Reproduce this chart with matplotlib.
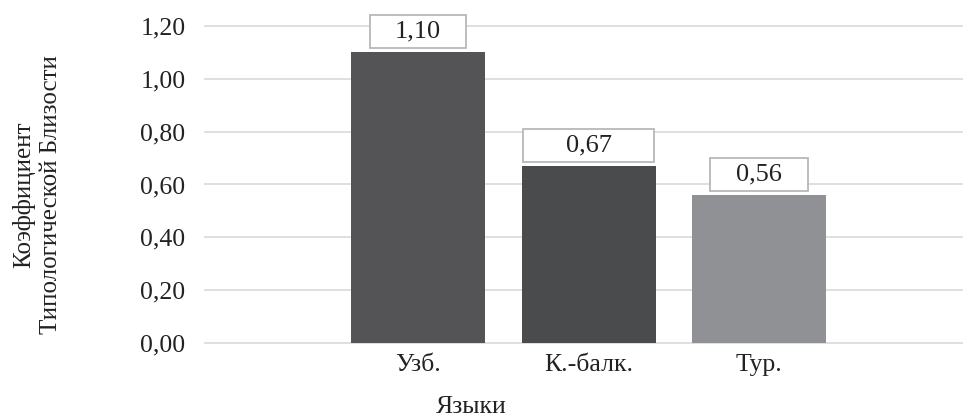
import matplotlib
matplotlib.use("Agg")
import matplotlib.pyplot as plt
from matplotlib.patches import Rectangle

plt.rcParams['font.family'] = ['Liberation Serif', 'DejaVu Serif']

# Data
languages = ["Узб.", "К.-балк.", "Тур."]
coefficients = [1.10, 0.67, 0.56]
y_ticks = [0.0, 0.2, 0.4, 0.6, 0.8, 1.0, 1.2]

# Styling
bar_colors = ["#545456", "#4a4b4d", "#909195"]
label_box_widths = [0.563, 0.768, 0.575]
grid_color = "#d9d9d9"
text_size = 18.5

fig = plt.figure(figsize=(9.63, 4.19), dpi=100)
ax = fig.add_axes([205 / 963, 1 - 343 / 419, 1 - 205 / 963, (343 - 26) / 419])

x = list(range(len(languages)))
ax.bar(x, coefficients, width=0.786, color=bar_colors, zorder=3)

ax.set_ylim(0, 1.2)
ax.set_xlim(-1.249, 3.196)
ax.set_yticks(y_ticks)
ax.set_yticklabels([f"{t:.2f}".replace(".", ",") for t in y_ticks], fontsize=text_size)
ax.set_xticks(x)
ax.set_xticklabels(languages, fontsize=text_size)
ax.tick_params(axis="both", length=0, colors="#222222")
ax.tick_params(axis="y", pad=14)
ax.tick_params(axis="x", pad=8)
ax.grid(axis="y", color=grid_color, linewidth=1.2, zorder=0)
ax.grid(axis="x", visible=False)
for spine in ax.spines.values():
    spine.set_visible(False)
for gl in ax.get_ygridlines():
    gl.set_clip_on(False)

# Value labels in outlined boxes above each bar
box_h = 0.125
gap = 0.015
for xi, v, w in zip(x, coefficients, label_box_widths):
    ax.add_patch(Rectangle((xi - w / 2, v + gap), w, box_h, facecolor="white",
                           edgecolor="#b8b8b8", linewidth=1.3, zorder=4, clip_on=False))
    ax.text(xi, v + gap + box_h / 2, f"{v:.2f}".replace(".", ","), ha="center",
            va="center", fontsize=19, color="#222222", zorder=5)

fig.text(471 / 963, 1 - 407 / 419, "Языки", ha="center", va="center",
         fontsize=text_size, color="#222222")
fig.text(37 / 963, 1 - 195 / 419, "Коэффициент\nТипологической Близости", rotation=90,
         ha="center", va="center", multialignment="center", fontsize=18,
         linespacing=1.25, color="#222222")

fig.savefig("out.png", dpi=100)
